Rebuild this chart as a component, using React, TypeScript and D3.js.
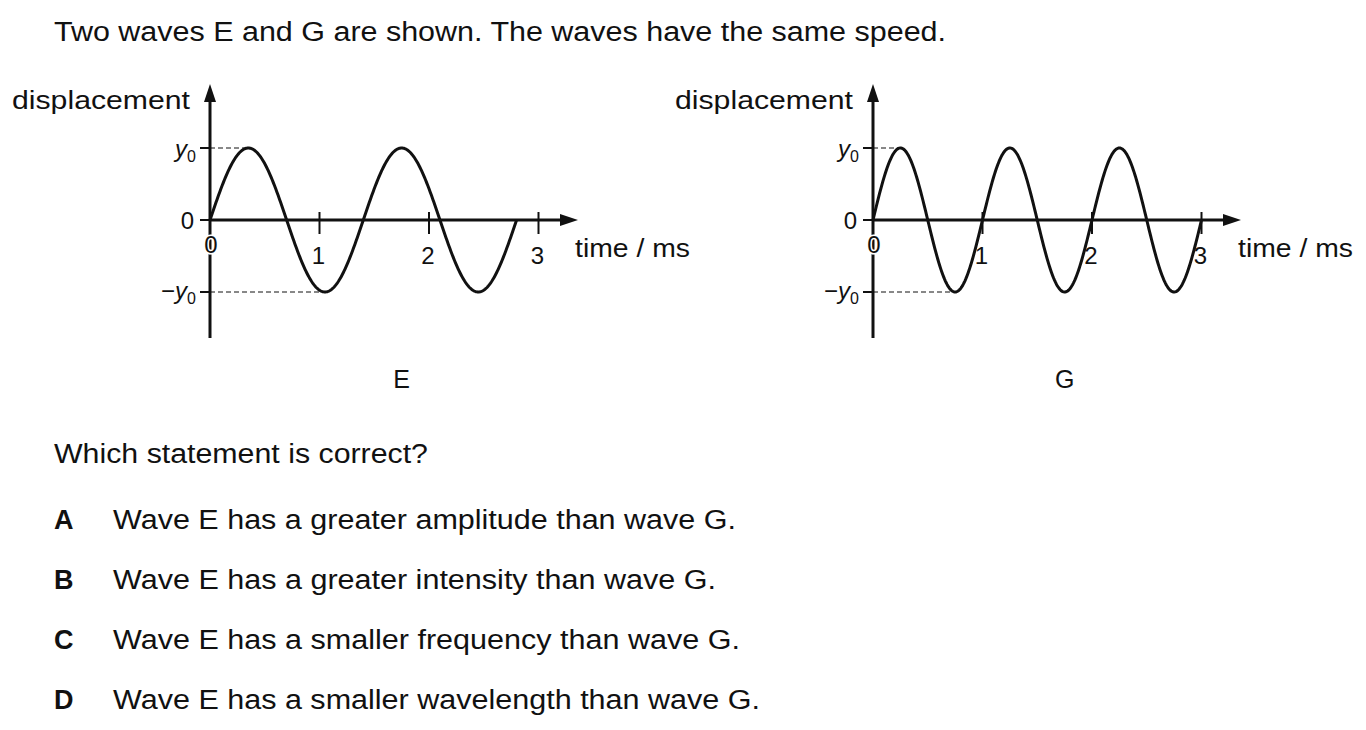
import React from 'react';
import * as d3 from 'd3';

const waveNames = ['E', 'G'];
const wavePeriods = [1.4, 1.0];
const waveCycles = [2, 3];
const originsX = [210, 873];
const xTicks = [1, 2, 3];
const options = [
  ['A', 'Wave E has a greater amplitude than wave G.', 623],
  ['B', 'Wave E has a greater intensity than wave G.', 603],
  ['C', 'Wave E has a smaller frequency than wave G.', 627],
  ['D', 'Wave E has a smaller wavelength than wave G.', 647],
] as const;

const F = 'Liberation Sans, Arial, sans-serif';

function Panel({ i }: { i: number }) {
  const ox = originsX[i];
  const period = wavePeriods[i];
  const end = period * waveCycles[i];
  const x = d3.scaleLinear().domain([0, 1]).range([ox, ox + 109.5]);
  const y = d3.scaleLinear().domain([-1, 1]).range([292, 148]);
  const pts = d3.range(0, end + 1e-9, end / 400).map(t => [t, Math.sin((2 * Math.PI * t) / period)] as [number, number]);
  const line = d3.line<[number, number]>().x(d => x(d[0])).y(d => y(d[1]));
  const axisEnd = ox + 368;
  const peakX = x(period / 4);
  const troughX = x((3 * period) / 4);
  return (
    <g fontFamily={F} fill="#111">
      <line x1={ox} x2={ox} y1={96} y2={338} stroke="#111" strokeWidth={3} />
      <path d={`M${ox - 6},${102} L${ox},${84} L${ox + 6},${102} Z`} />
      <line x1={ox} x2={axisEnd - 10} y1={y(0)} y2={y(0)} stroke="#111" strokeWidth={3} />
      <path d={`M${axisEnd - 18},${y(0) - 6} L${axisEnd},${y(0)} L${axisEnd - 18},${y(0) + 6} Z`} />
      {[1, 0, -1].map(v => (
        <line key={v} x1={ox - 10} x2={ox} y1={y(v)} y2={y(v)} stroke="#111" strokeWidth={2} />
      ))}
      <line x1={ox} x2={peakX} y1={y(1)} y2={y(1)} stroke="#111" strokeWidth={1} strokeDasharray="5,3" />
      <line x1={ox} x2={troughX} y1={y(-1)} y2={y(-1)} stroke="#111" strokeWidth={1} strokeDasharray="5,3" />
      {xTicks.map(t => (
        <g key={t}>
          <line x1={x(t)} x2={x(t)} y1={y(0) - 8} y2={y(0) + 14} stroke="#111" strokeWidth={2} />
          <text x={x(t) - 1} y={y(0) + 44} fontSize={24} textAnchor="middle">{t}</text>
        </g>
      ))}
      <text x={ox + 1} y={y(0) + 33} fontSize={24} textAnchor="middle" stroke="#fff" strokeWidth={3} paintOrder="stroke">0</text>
      <path d={line(pts)!} fill="none" stroke="#111" strokeWidth={3} />
      <text x={ox - 16} y={y(0) + 9} fontSize={24} textAnchor="end">0</text>
      <text x={ox - 14} y={y(1) + 9} fontSize={24} textAnchor="end" fontStyle="italic">y<tspan fontSize={16} fontStyle="normal" dy={5}>0</tspan></text>
      <text x={ox - 14} y={y(-1) + 7} fontSize={24} textAnchor="end"><tspan>−</tspan><tspan fontStyle="italic">y</tspan><tspan fontSize={16} dy={5}>0</tspan></text>
      <text x={ox - 198} y={109} fontSize={25} textLength={178} lengthAdjust="spacingAndGlyphs">displacement</text>
      <text x={axisEnd - 3} y={y(0) + 37} fontSize={25} textLength={115} lengthAdjust="spacingAndGlyphs">time / ms</text>
      <text x={x(1.75)} y={388} fontSize={25} textAnchor="middle">{waveNames[i]}</text>
    </g>
  );
}

export default function App() {
  return (
    <svg width={1366} height={730} style={{ position: 'absolute', left: 0, top: 0, background: '#fff' }}>
      <rect width={1366} height={730} fill="#fff" />
      <g fontFamily={F} fill="#111" fontSize={27}>
        <text x={54} y={41} textLength={892} lengthAdjust="spacingAndGlyphs">Two waves E and G are shown. The waves have the same speed.</text>
        <text x={54} y={463} textLength={374} lengthAdjust="spacingAndGlyphs">Which statement is correct?</text>
        {options.map((o, k) => (
          <g key={o[0]}>
            <text x={54} y={529 + k * 60} fontWeight="bold">{o[0]}</text>
            <text x={113} y={529 + k * 60} textLength={o[2]} lengthAdjust="spacingAndGlyphs">{o[1]}</text>
          </g>
        ))}
      </g>
      {waveNames.map((_, i) => <Panel key={i} i={i} />)}
    </svg>
  );
}
